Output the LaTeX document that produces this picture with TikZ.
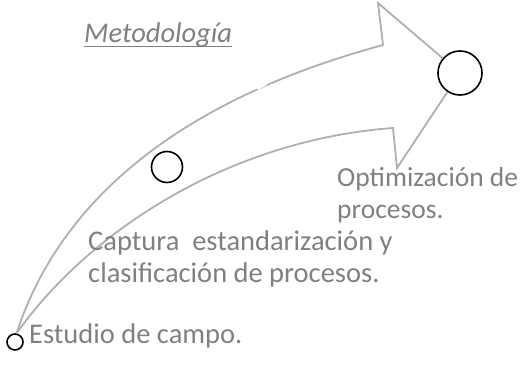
\documentclass[tikz,border=0pt]{standalone}
\usepackage{fontspec}
\setmainfont{Carlito}
\usepackage{tikz}
\usetikzlibrary{calc}

\definecolor{textogris}{RGB}{128,128,128}
\definecolor{flechagris}{RGB}{175,175,175}

\begin{document}
\begin{tikzpicture}[x=1pt,y=-1pt,
    flecha/.style={draw=flechagris, line width=1.8pt},
    hito/.style={circle, draw=black, line width=1.6pt, inner sep=0pt},
    etiqueta/.style={text=textogris, inner sep=0pt, anchor=base west, align=left,
        font=\fontsize{28.5}{31.5}\selectfont}]
                    \useasboundingbox (0,0) rectangle (523,375);
                    \node[hito, minimum size=16pt] (inicio) at (15,342) {};
                    \node[hito, minimum size=31pt] (captura) at (167,167) {};
                    \node[hito, minimum size=44pt] (meta) at (460,73) {};
                    \coordinate (baseSup) at (383,45);
                    \coordinate (puntaSup) at (378,3);
                    \coordinate (baseInf) at (393,128);
                    \coordinate (puntaInf) at (397,168);
                    \draw[flecha] (inicio.80) .. controls (60,200) and (180,100) .. (baseSup) -- (puntaSup) -- (meta);
                    \draw[flecha] (inicio.80) .. controls (90,230) and (230,140) .. (baseInf) -- (puntaInf) -- (meta);
                    % corte en la curva de arriba
                    \draw[white, line width=3.5pt] (257,88.5) -- (266,83.5);
                    \node[etiqueta, font=\fontsize{28.5}{31.5}\selectfont\itshape] (titulo) at (84,42)
                        {\underline{\smash{Metodología}\vphantom{\rule[-3pt]{0pt}{1pt}}}};
                    \node[etiqueta] (campo) at (29,343) {Estudio de campo.};
                    \node[etiqueta] (captura texto) at (88,282) {Captura\ \ estandarización y\\clasificación de procesos.};
                    \node[etiqueta, font=\fontsize{27.5}{31.5}\selectfont] (optimizacion) at (337,218) {Optimización de\\procesos.};
\end{tikzpicture}
\end{document}
